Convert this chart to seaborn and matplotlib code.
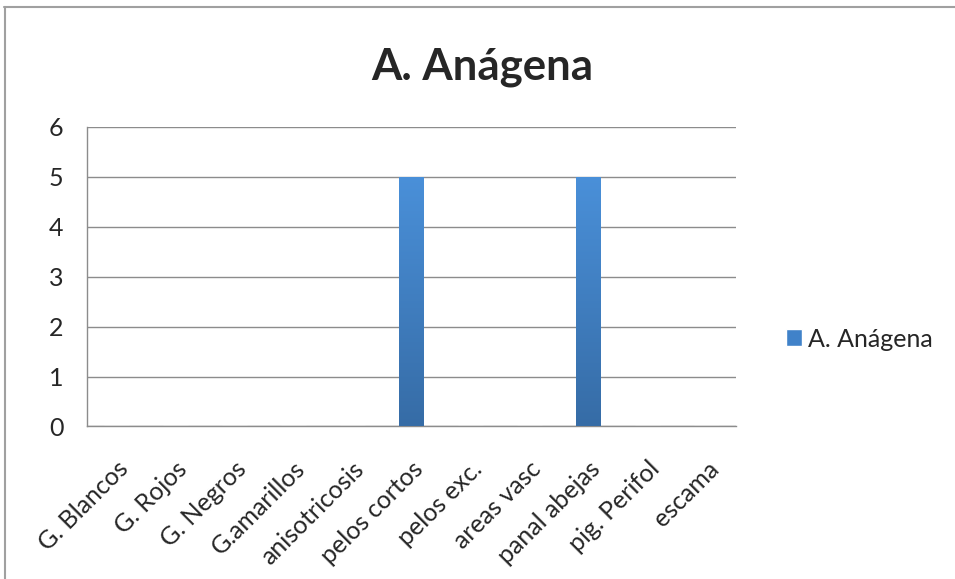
import numpy as np
import pandas as pd
import matplotlib
matplotlib.use("Agg")
import matplotlib.pyplot as plt
from matplotlib.patches import Rectangle
import seaborn as sns

categories = ["G. Blancos", "G. Rojos", "G. Negros", "G.amarillos", "anisotricosis",
              "pelos cortos", "pelos exc.", "areas vasc", "panal abejas", "pig. Perifol",
              "escama"]
values = [0, 0, 0, 0, 0, 5, 0, 0, 5, 0, 0]
series_name = "A. Anágena"

sns.set_style("white")
plt.rcParams["font.family"] = ["Lato", "DejaVu Sans"]

GRID = "#8c8c8c"
TOP_C = np.array([0x4a, 0x90, 0xd9]) / 255
BOT_C = np.array([0x36, 0x6c, 0xa6]) / 255

df = pd.DataFrame({"cat": categories, "val": values})

fig = plt.figure(figsize=(9.55, 5.79), dpi=100)
ax = fig.add_axes([0.0911, 0.2634, 0.6796, 0.5173])

sns.barplot(data=df, x="cat", y="val", color=TOP_C, width=0.41, ax=ax,
            saturation=1, label=series_name)

# gradient fill on the bars (light at top, darker at bottom)
grad = np.linspace(0, 1, 256)[:, None]
cols = TOP_C[None, :] * (1 - grad) + BOT_C[None, :] * grad
img = cols[:, None, :]
for p in list(ax.patches):
    if p.get_height() <= 0:
        continue
    x0, w, h = p.get_x(), p.get_width(), p.get_height()
    im = ax.imshow(img, extent=[x0, x0 + w, 0, h], aspect="auto", zorder=3)
    im.set_clip_path(p)
    p.set_facecolor("none")
    p.set_edgecolor("none")

ax.set_xlim(-0.5, len(categories) - 0.5)
ax.set_ylim(0, 6)
ax.set_yticks(range(7))
ax.yaxis.grid(True, color=GRID, linewidth=1)
ax.set_axisbelow(True)

# ticks between categories, labels at category centres
ax.set_xticks(np.arange(-0.5, len(categories) + 0.5, 1))
ax.set_xticklabels([])
ax.set_xticks(np.arange(len(categories)), minor=True)
ax.set_xticklabels(categories, minor=True, rotation=45, ha="right",
                   rotation_mode="anchor", fontsize=18)
ax.tick_params(axis="x", which="major", length=6, color=GRID, width=1, direction="out")
ax.tick_params(axis="x", which="minor", length=0, pad=22)
ax.tick_params(axis="y", length=6, color=GRID, width=1, labelsize=18, pad=11)

for s in ["top", "right"]:
    ax.spines[s].set_visible(False)
for s in ["left", "bottom"]:
    ax.spines[s].set_color(GRID)
    ax.spines[s].set_linewidth(1)

ax.set_xlabel("")
ax.set_ylabel("")
fig.text(0.505, 0.862, "A. Anágena", ha="center", va="baseline",
         fontsize=31.5, fontweight="bold")

handle = Rectangle((0, 0), 1, 1, facecolor="#4082c9")
fig.legend([handle], [series_name], loc="center left",
           bbox_to_anchor=(0.823, 0.4145), frameon=False, fontsize=18,
           handlelength=0.64, handleheight=0.64, handletextpad=0.25,
           borderpad=0, borderaxespad=0)
if ax.get_legend():
    ax.get_legend().remove()

# outer chart frame
fig.add_artist(plt.Line2D([0.004, 1], [0.988, 0.988], color="#a0a0a0", lw=1.5,
                          transform=fig.transFigure))
fig.add_artist(plt.Line2D([0.005, 0.005], [0, 0.988], color="#a0a0a0", lw=1.5,
                          transform=fig.transFigure))

fig.savefig("out.png", dpi=100)
